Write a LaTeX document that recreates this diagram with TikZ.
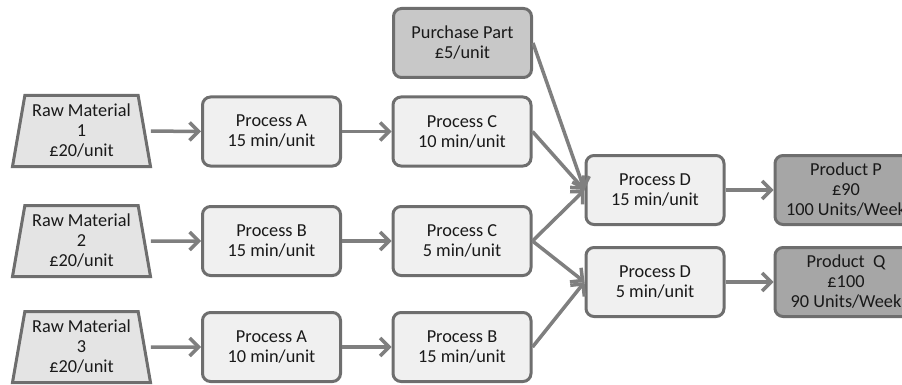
\documentclass[tikz,border=0pt]{standalone}
\usepackage{fontspec}
\setmainfont{Carlito}
\usetikzlibrary{arrows.meta,shapes.geometric}
\definecolor{edgegray}{HTML}{6E6E6E}
\definecolor{arrowgray}{HTML}{7F7F7F}
\definecolor{procfill}{HTML}{F0F0F0}
\definecolor{rawfill}{HTML}{E4E4E4}
\definecolor{buyfill}{HTML}{C8C8C8}
\definecolor{prodfill}{HTML}{A6A6A6}
\begin{document}
\begin{tikzpicture}[x=1pt,y=-1pt,
  txt/.style={align=center, font=\fontsize{18.3}{20}\selectfont, text=black!90},
  box/.style={txt, draw=edgegray, line width=3pt, rounded corners=8pt,
    minimum width=138pt, minimum height=69pt, inner sep=0pt},
  proc/.style={box, fill=procfill},
  buy/.style={box, fill=buyfill},
  prod/.style={box, fill=prodfill, minimum width=142pt},
  raw/.style={txt, trapezium, trapezium stretches body, trapezium angle=77,
    draw=edgegray, line width=3pt, fill=rawfill, minimum width=138pt,
    minimum height=71pt, inner sep=0pt},
  arr/.style={draw=arrowgray, line width=3.5pt,
    -{Straight Barb[length=9pt,width=18pt]}}
]
\useasboundingbox (0,0) rectangle (902,385);
\clip (0,0) rectangle (902,385);
% raw materials
\node[raw] (rm1) at (81.5,131) {Raw Material\\1\\£20/unit};
\node[raw] (rm2) at (81.5,241) {Raw Material\\2\\£20/unit};
\node[raw] (rm3) at (81.5,347) {Raw Material\\3\\£20/unit};
% column A
\node[proc] (pa1) at (271.5,131.5) {Process A\\15 min/unit};
\node[proc] (pb2) at (271.5,241) {Process B\\15 min/unit};
\node[proc] (pa3) at (271.5,347) {Process A\\10 min/unit};
% column C
\node[buy] (pp) at (462.5,43) {Purchase Part\\£5/unit};
\node[proc] (pc1) at (462,131.5) {Process C\\10 min/unit};
\node[proc] (pc2) at (462,241) {Process C\\5 min/unit};
\node[proc] (pb3) at (462,347) {Process B\\15 min/unit};
% column D
\node[proc] (pd1) at (655,190) {Process D\\15 min/unit};
\node[proc] (pd2) at (655,282) {Process D\\5 min/unit};
% products
\node[prod] (prp) at (846,190) {Product P\\£90\\100 Units/Week};
\node[prod] (prq) at (846,282) {Product~~Q\\£100\\90 Units/Week};
% connectors
\draw[arr, shorten <=5pt] (rm1.east) -- (pa1.west);
\draw[arr, shorten <=5pt] (rm2.east) -- (pb2.west);
\draw[arr, shorten <=5pt] (rm3.east) -- (pa3.west);
\draw[arr] (pa1.east) -- (pc1.west);
\draw[arr] (pb2.east) -- (pc2.west);
\draw[arr] (pa3.east) -- (pb3.west);
\draw[arr] (pp.east) -- (pd1.west);
\draw[arr] (pc1.east) -- (pd1.west);
\draw[arr] (pc2.east) -- (pd1.west);
\draw[arr] (pc2.east) -- (pd2.west);
\draw[arr] (pb3.east) -- (pd2.west);
\draw[arr] (pd1.east) -- (prp.west);
\draw[arr] (pd2.east) -- (prq.west);
\end{tikzpicture}
\end{document}
